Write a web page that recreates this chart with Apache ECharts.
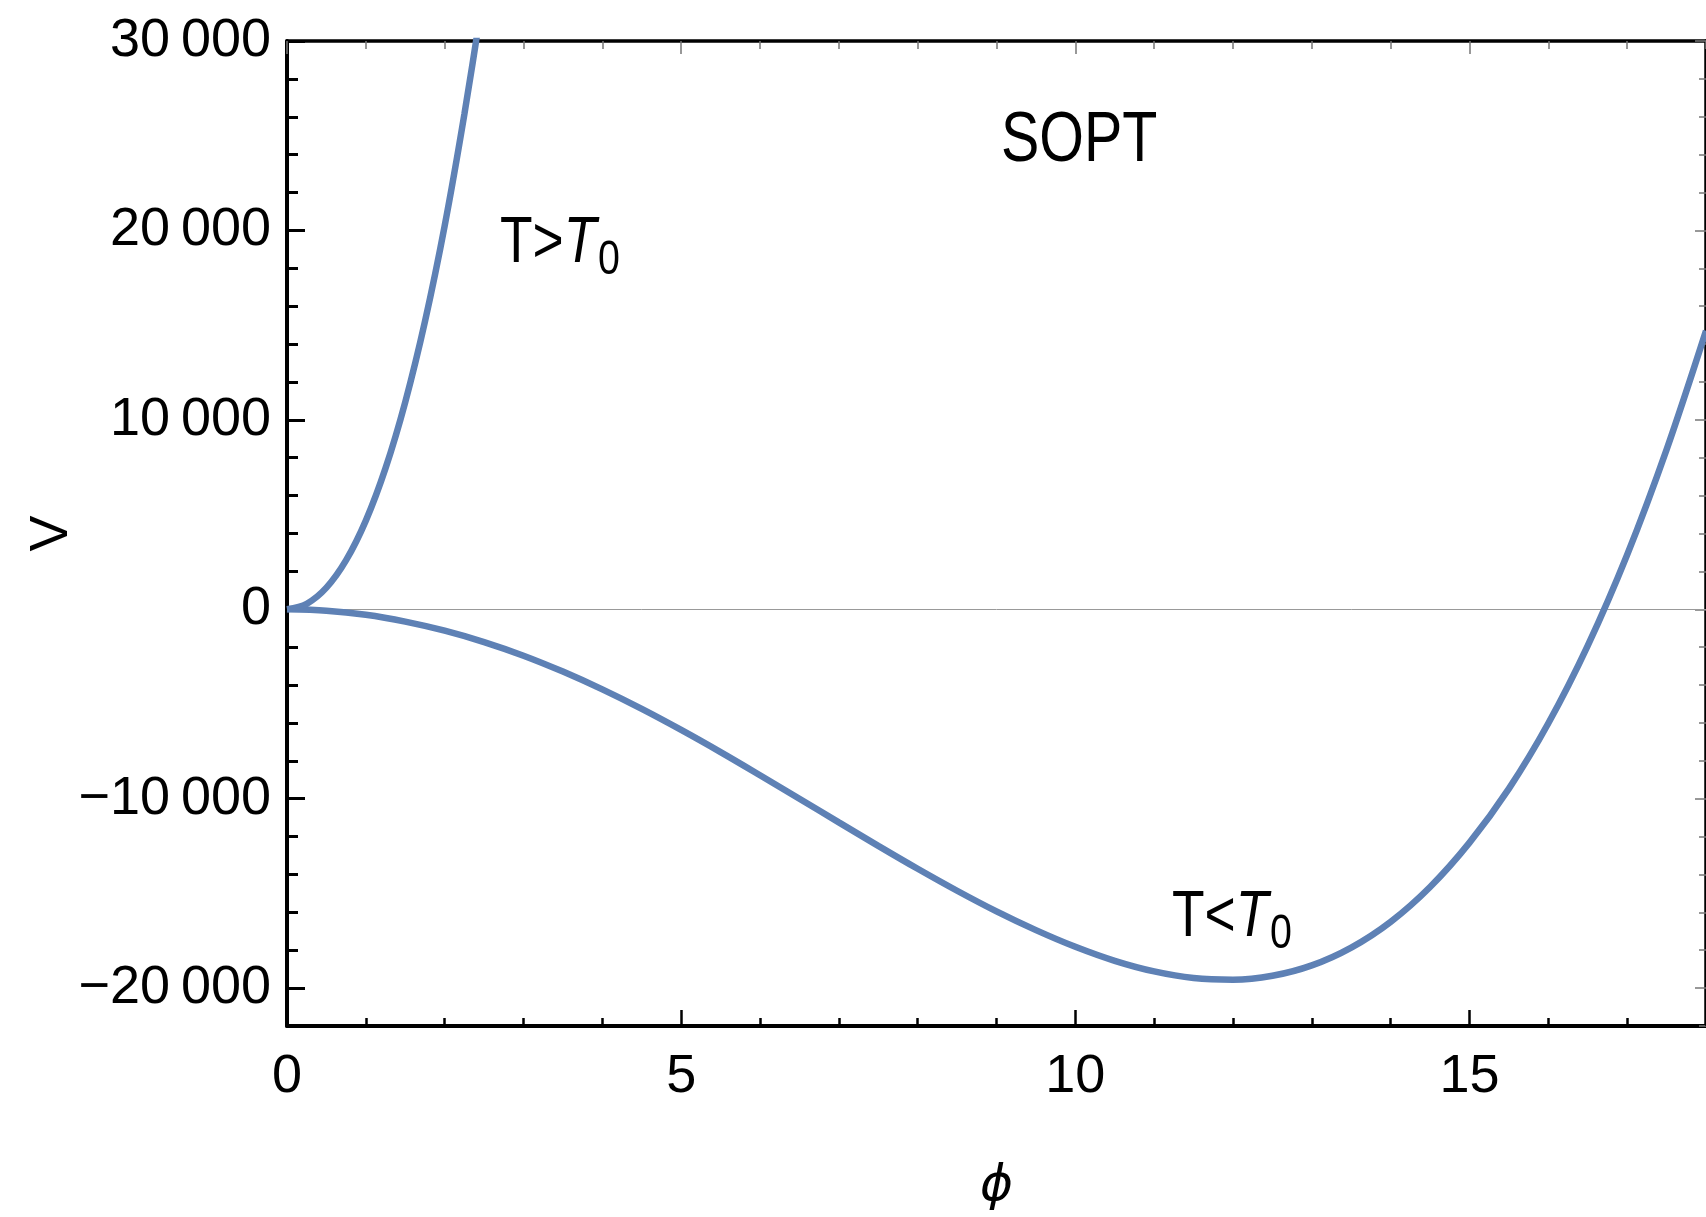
<!DOCTYPE html>
<html>
<head>
<meta charset="utf-8">
<script src="https://cdn.jsdelivr.net/npm/echarts@6/dist/echarts.min.js"></script>
<style>html,body{margin:0;padding:0;background:#fff;}#c{width:1706px;height:1217px;}</style>
</head>
<body>
<div id="c"></div>
<script>
// ---- data ----
// T > T0 branch (leaves the top of the frame near phi = 2.4)
const phiHigh = [0, 0.25, 0.5, 0.75, 1.0, 1.25, 1.5, 1.75, 2.0, 2.25, 2.5];
const vHigh   = [0, 290, 1140, 2590, 4680, 7450, 10940, 15190, 20240, 26130, 32700];

// T < T0 branch
const phiLow = [0, 0.5, 1, 1.5, 2, 2.5, 3, 3.5, 4, 4.5, 5, 5.5, 6, 6.5, 7, 7.5, 8, 8.5, 9, 9.5,
                10, 10.5, 11, 11.5, 12, 12.5, 13, 13.5, 14, 14.5, 15, 15.5, 16, 16.5, 17, 17.5, 18];
const vLow   = [0, -75, -290, -650, -1130, -1730, -2450, -3290, -4230, -5260, -6370, -7540, -8760, -10000, -11250, -12490, -13700, -14860, -15950, -16940,
                -17820, -18560, -19120, -19470, -19560, -19350, -18800, -17860, -16500, -14660, -12320, -9470, -6020, -1920, 2880, 8430, 14700];

const xMajorTicks = [0, 5, 10, 15];
const yMajorTicks = [-20000, -10000, 0, 10000, 20000, 30000];

const labelHigh = 'T>';
const labelLow = 'T<';
const labelTitle = 'SOPT';

// ---- chart ----
const FONT = '"Liberation Sans Narrow", "Liberation Sans", Arial, sans-serif';
const BLUE = '#5E81B5';
const pairs = (xs, ys) => xs.map((x, i) => [x, ys[i]]);
const fmtY = v => {
  const s = Math.abs(v).toString();
  const t = s.length > 3 ? s.slice(0, s.length - 3) + '\u2009' + s.slice(s.length - 3) : s;
  return (v < 0 ? '\u2212' : '') + t;
};

const XMIN = 0, XMAX = 18, YMIN = -22000, YMAX = 30000;
const baseX = {type: 'value', min: XMIN, max: XMAX, splitLine: {show: false}};
const baseY = {type: 'value', min: YMIN, max: YMAX, splitLine: {show: false}};

const subRich = {
  a: {fontSize: 65, fontFamily: FONT, fill: '#000'},
  b: {fontSize: 65, fontFamily: FONT, fontStyle: 'italic', fill: '#000'},
  c: {fontSize: 48, fontFamily: FONT, fill: '#000', padding: [34, 0, 0, 2]}
};

const chart = echarts.init(document.getElementById('c'), null, {renderer: 'canvas'});
chart.setOption({
  animation: false,
  backgroundColor: '#fff',
  grid: {left: 287, top: 41, right: -7, bottom: 182, containLabel: false},
  xAxis: [
    Object.assign({}, baseX, {position: 'bottom', interval: 1,
      axisLine: {show: true, onZero: false, lineStyle: {color: '#000', width: 4}},
      axisTick: {show: true, inside: true, length: 8, lineStyle: {color: '#000', width: 2.5}},
      axisLabel: {show: false}}),
    Object.assign({}, baseX, {position: 'bottom',
      axisLine: {show: false, onZero: false},
      axisTick: {show: true, inside: true, length: 16, customValues: xMajorTicks, lineStyle: {color: '#000', width: 2.5}},
      axisLabel: {show: true, customValues: xMajorTicks, margin: 24, color: '#000', fontFamily: FONT, fontSize: 54},
      name: '\u03D5', nameLocation: 'middle', nameGap: 136, nameMoveOverlap: false,
      nameTextStyle: {color: '#000', fontFamily: 'DejaVu Sans', fontStyle: 'italic', fontSize: 50}}),
    Object.assign({}, baseX, {position: 'top', interval: 1,
      axisLine: {show: true, onZero: false, lineStyle: {color: '#000', width: 3.5}},
      axisTick: {show: true, inside: true, length: 8, lineStyle: {color: '#777', width: 1.5}},
      axisLabel: {show: false}}),
    Object.assign({}, baseX, {position: 'top',
      axisLine: {show: false, onZero: false},
      axisTick: {show: true, inside: true, length: 13, customValues: xMajorTicks, lineStyle: {color: '#777', width: 1.5}},
      axisLabel: {show: false}})
  ],
  yAxis: [
    Object.assign({}, baseY, {position: 'left', interval: 2000,
      axisLine: {show: true, onZero: false, lineStyle: {color: '#000', width: 4}},
      axisTick: {show: true, inside: true, length: 11, lineStyle: {color: '#000', width: 3}},
      axisLabel: {show: false}}),
    Object.assign({}, baseY, {position: 'left',
      axisLine: {show: false, onZero: false},
      axisTick: {show: true, inside: true, length: 18, customValues: yMajorTicks, lineStyle: {color: '#000', width: 3}},
      axisLabel: {show: true, customValues: yMajorTicks, margin: 16, color: '#000', fontFamily: FONT, fontSize: 54, formatter: fmtY},
      name: 'V', nameLocation: 'middle', nameGap: 208, nameRotate: 90, nameMoveOverlap: false,
      nameTextStyle: {color: '#000', fontFamily: FONT, fontSize: 54}}),
    Object.assign({}, baseY, {position: 'right', interval: 2000,
      axisLine: {show: true, onZero: false, lineStyle: {color: '#000', width: 3.5}},
      axisTick: {show: true, inside: true, length: 7, lineStyle: {color: '#777', width: 1.5}},
      axisLabel: {show: false}}),
    Object.assign({}, baseY, {position: 'right',
      axisLine: {show: false, onZero: false},
      axisTick: {show: true, inside: true, length: 11, customValues: yMajorTicks, lineStyle: {color: '#777', width: 1.5}},
      axisLabel: {show: false}})
  ],
  series: [
    {type: 'line', xAxisIndex: 0, yAxisIndex: 0, data: pairs(phiLow, vLow), showSymbol: false, smooth: 0.33,
      lineStyle: {color: BLUE, width: 6.5}, z: 3,
      markLine: {silent: true, symbol: 'none', label: {show: false}, lineStyle: {color: '#999', width: 1, type: 'solid'},
        data: [{yAxis: 0}], z: 1}},
    {type: 'line', xAxisIndex: 0, yAxisIndex: 0, data: pairs(phiHigh, vHigh), showSymbol: false, smooth: 0.33,
      lineStyle: {color: BLUE, width: 6.5}, z: 3}
  ],
  graphic: [
    {type: 'text', x: 1001, y: 107, scaleX: 0.82, style: {text: labelTitle, font: '70px ' + FONT, fill: '#000', x: 0, y: 0, textAlign: 'left', textVerticalAlign: 'top'}},
    {type: 'text', x: 500, y: 203, scaleX: 0.82, style: {text: '{a|' + labelHigh + '}{b|T}{c|0}', rich: subRich, x: 0, y: 0, textAlign: 'left', textVerticalAlign: 'top'}},
    {type: 'text', x: 1172, y: 877, scaleX: 0.82, style: {text: '{a|' + labelLow + '}{b|T}{c|0}', rich: subRich, x: 0, y: 0, textAlign: 'left', textVerticalAlign: 'top'}}
  ]
});
</script>
</body>
</html>
